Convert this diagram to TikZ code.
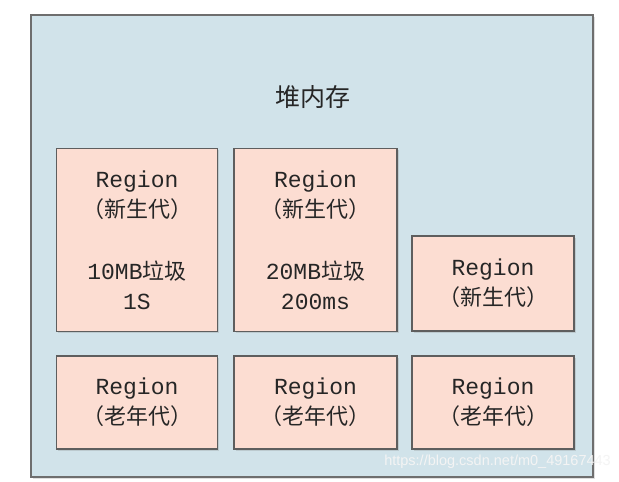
\documentclass[tikz,border=0pt]{standalone}
\usepackage{fontspec}
\setmainfont{Liberation Mono}
\newfontfamily\cjk{Noto Sans CJK SC}
\newfontfamily\wm{Liberation Sans}
\usetikzlibrary{shadows}
\definecolor{heapfill}{HTML}{D1E3EA}
\definecolor{heapline}{HTML}{6E6E6E}
\definecolor{regfill}{HTML}{FCDDD2}
\definecolor{regline}{HTML}{5E5E5E}
\definecolor{txt}{HTML}{262626}
\definecolor{wmcol}{HTML}{F4F4F4}
\newcommand{\zh}[1]{{\cjk\fontsize{22}{30}\selectfont #1}}
\tikzset{
  regbox/.style={draw=regline, fill=regfill, line width=1.4pt, inner sep=0pt,
    align=center, text=txt, font=\fontsize{23}{30}\selectfont,
    drop shadow={opacity=0.25, shadow xshift=1.5pt, shadow yshift=-1.5pt}},
}
\begin{document}
\begin{tikzpicture}[x=1pt,y=-1pt]
\useasboundingbox (0,0) rectangle (619,482);
\fill[white] (0,0) rectangle (619,482);
\node[draw=heapline, fill=heapfill, line width=1.5pt, minimum width=562pt, minimum height=462pt,
  inner sep=0pt, drop shadow={opacity=0.25, shadow xshift=2pt, shadow yshift=-2pt}] (heap) at (312,246) {};
\node[text=txt, font=\cjk\fontsize{25}{28}\selectfont] (title) at (313,97) {堆内存};
% top row
\node[regbox, minimum width=161pt, minimum height=183pt] (r1) at (137,240)
  {Region\\\zh{（新生代）}\\[32pt]10MB\zh{垃圾}\\1S};
\node[regbox, minimum width=163pt, minimum height=183pt] (r2) at (315.5,240)
  {Region\\\zh{（新生代）}\\[32pt]20MB\zh{垃圾}\\200ms};
\node[regbox, minimum width=162pt, minimum height=95pt] (r3) at (493,283.5)
  {Region\\\zh{（新生代）}};
% bottom row
\node[regbox, minimum width=161pt, minimum height=93pt] (r4) at (137,402.5)
  {Region\\\zh{（老年代）}};
\node[regbox, minimum width=163pt, minimum height=93pt] (r5) at (315.5,402.5)
  {Region\\\zh{（老年代）}};
\node[regbox, minimum width=162pt, minimum height=93pt] (r6) at (493,402.5)
  {Region\\\zh{（老年代）}};
\node[anchor=east, text=wmcol, font=\wm\fontsize{14.5}{16}\selectfont, inner sep=0pt] (wm) at (611,462)
  {https://blog.csdn.net/m0\_49167443};
\end{tikzpicture}
\end{document}
